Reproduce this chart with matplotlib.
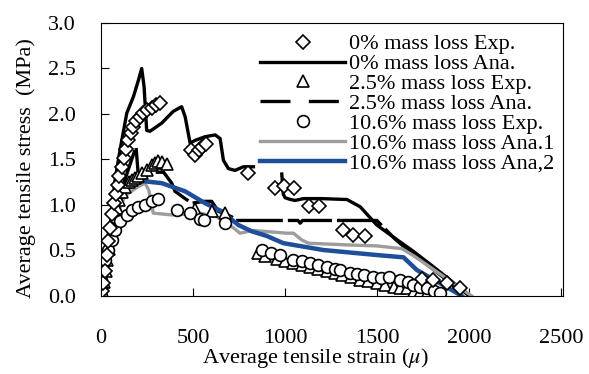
import numpy as np
import matplotlib
matplotlib.use('Agg')
import matplotlib.pyplot as plt
from matplotlib.lines import Line2D

plt.rcParams['font.family'] = 'Liberation Serif'
plt.rcParams['mathtext.fontset'] = 'stix'

# 0% mass loss - experiment (diamonds)
exp0_strain = [5, 12, 20, 30, 40, 50, 60, 70, 80, 90, 100, 112, 124, 136, 149, 162,
               176, 192, 210, 230, 252, 275, 298, 321,
               490, 511, 530, 550, 570, 801,
               946, 995, 1050, 1130, 1185, 1317, 1371, 1435,
               1743, 1806, 1879, 1951]
exp0_stress = [0.05, 0.14, 0.28, 0.45, 0.6, 0.75, 0.9, 1.02, 1.12, 1.22, 1.32, 1.42, 1.52, 1.62, 1.71, 1.79,
               1.86, 1.92, 1.97, 2.01, 2.04, 2.07, 2.10, 2.12,
               1.60, 1.55, 1.60, 1.64, 1.67, 1.35,
               1.19, 1.21, 1.19, 0.99, 0.99, 0.725, 0.67, 0.66,
               0.19, 0.175, 0.14, 0.085]

# 0% mass loss - analysis (nan splits the curve)
ana0_strain = [0, 40, 76, 103, 140, 176, 203, 221, 234, 248, 266, 330, 393, 438, 457, 484,
               511, 565, 620, 647, 665, 692, 728, 773, 828, np.nan,
               982, 990, 1000, 1030, 1054, 1100, 1200, 1336, 1408, 1498, 1600, 1697,
               1800, 1900, 2000]
ana0_stress = [0, 0.55, 1.27, 1.60, 2.01, 2.19, 2.37, 2.50, 2.30, 1.82, 1.81, 1.90, 2.03, 2.08, 1.97, 1.68,
               1.71, 1.75, 1.77, 1.73, 1.49, 1.40, 1.38, 1.42, 1.42, np.nan,
               1.34, 1.12, 1.08, 1.06, 1.05, 1.07, 1.07, 1.06, 0.98, 0.78, 0.63, 0.49,
               0.33, 0.17, 0.0]

# 2.5% mass loss - experiment (triangles)
exp25_strain = [0, 8, 15, 25, 35, 45, 55, 65, 75, 88, 100, 115, 130, 150, 170, 185,
                200, 221, 248, 275, 293, 312, 330, 357,
                511, 601, 674,
                855, 891, 955, 1000, 1045, 1090, 1136, 1180, 1227, 1270, 1308, 1360,
                1408, 1450, 1498, 1545, 1589, 1625, 1661, 1700, 1735, 1770, 1810, 1852]
exp25_stress = [0, 0.05, 0.15, 0.27, 0.4, 0.52, 0.65, 0.76, 0.87, 0.97, 1.06, 1.14, 1.2, 1.25, 1.28, 1.3,
                1.32, 1.35, 1.38, 1.44, 1.46, 1.48, 1.47, 1.45,
                0.96, 0.93, 0.91,
                0.47, 0.44, 0.41, 0.38, 0.36, 0.34, 0.32, 0.295, 0.27, 0.25, 0.23, 0.205,
                0.18, 0.16, 0.14, 0.12, 0.10, 0.09, 0.085, 0.06, 0.045, 0.03, 0.02, 0.0]

# 2.5% mass loss - analysis
ana25_strain = [0, 50, 100, 150, 190, 205, 240, 290, 340, 384, 402, 450, 493, 560, 601,
                638, 710, 728, 900, 1070, 1082, 1095, 1300, 1498, 1600, 1700, 1800, 1900, 1965]
ana25_stress = [0, 0.7, 1.1, 1.4, 1.64, 1.27, 1.32, 1.36, 1.36, 1.24, 1.15, 1.08, 1.02, 1.04, 1.04,
                0.93, 0.87, 0.83, 0.83, 0.83, 0.80, 0.83, 0.83, 0.83, 0.62, 0.45, 0.30, 0.14, 0.0]

# 10.6% mass loss - experiment (circles)
exp106_strain = [0, 0, 0, 13, 22, 40, 58, 76, 103, 140, 167, 203, 239, 275, 312,
                 411, 484, 538, 560, 674,
                 873, 925, 973, 1045, 1090, 1136, 1180, 1227, 1270, 1299, 1353, 1390,
                 1426, 1480, 1520, 1562, 1625, 1665, 1697, 1735, 1770, 1810, 1842]
exp106_stress = [0.0, 0.08, 0.18, 0.29, 0.40, 0.51, 0.62, 0.73, 0.82, 0.89, 0.95, 0.98, 1.00, 1.04, 1.07,
                 0.945, 0.91, 0.85, 0.83, 0.80,
                 0.505, 0.47, 0.45, 0.40, 0.38, 0.36, 0.34, 0.32, 0.30, 0.285, 0.25, 0.24,
                 0.23, 0.21, 0.20, 0.21, 0.175, 0.15, 0.12, 0.10, 0.085, 0.06, 0.03]

# 10.6% mass loss - analysis 1 (grey)
ana106a_strain = [0, 60, 130, 200, 239, 260, 284, 391, 538, 629, 700, 755, 826, 1009, 1045,
                  1091, 1127, 1353, 1500, 1634, 1700, 1800, 1900, 2014]
ana106a_stress = [0, 0.75, 1.1, 1.2, 1.24, 1.16, 0.91, 0.89, 0.91, 0.87, 0.78, 0.69, 0.72, 0.69, 0.69,
                  0.615, 0.58, 0.56, 0.55, 0.52, 0.44, 0.30, 0.16, 0.0]

# 10.6% mass loss - analysis 2 (blue)
ana106b_strain = [0, 60, 120, 200, 239, 330, 457, 565, 656, 746, 820, 900, 991, 1208, 1498,
                  1643, 1716, 1842, 1960]
ana106b_stress = [0, 0.8, 1.15, 1.25, 1.26, 1.24, 1.15, 1.02, 0.93, 0.78, 0.71, 0.66, 0.58, 0.505, 0.45,
                  0.425, 0.285, 0.14, 0.0]

mk = dict(linestyle='none', markerfacecolor='white', markeredgecolor='black',
          markeredgewidth=1.2, markersize=8.5)

fig, ax = plt.subplots(figsize=(5.89, 3.74), dpi=100)
fig.subplots_adjust(left=0.1715, right=0.956, bottom=0.2086, top=0.9385)

l0, = ax.plot(ana0_strain, ana0_stress, color='black', lw=2.4,
              label='0% mass loss Ana.')
ax.plot(ana25_strain, ana25_stress, color='black', lw=2.4, dashes=(14, 1.5))
la, = ax.plot(ana106a_strain, ana106a_stress, color='#9d9d9d', lw=2.4,
              label='10.6% mass loss Ana.1')
lb, = ax.plot(ana106b_strain, ana106b_stress, color='#1f4e9b', lw=3.2,
              label='10.6% mass loss Ana,2')
m25, = ax.plot(exp25_strain, exp25_stress, marker='^', label='2.5% mass loss Exp.', **mk)
m106, = ax.plot(exp106_strain, exp106_stress, marker='o', label='10.6% mass loss Exp.', **mk)
m0, = ax.plot(exp0_strain, exp0_stress, marker='D', label='0% mass loss Exp.',
              **{**mk, 'markersize': 7.5})

# legend shows the dashed line with longer gaps
l25 = Line2D([], [], color='black', lw=2.4, dashes=(9, 5.5), label='2.5% mass loss Ana.')

ax.set_xlim(0, 2510)
ax.set_ylim(0, 3.0)
ax.set_xticks(np.arange(0, 2501, 500))
ax.set_yticks(np.arange(0, 3.01, 0.5))
ax.yaxis.set_major_formatter(matplotlib.ticker.FormatStrFormatter('%.1f'))
ax.tick_params(axis='x', direction='in', length=6, width=0.8, pad=24, labelsize=16)
ax.tick_params(axis='y', direction='in', length=6, width=0.8, pad=18, labelsize=16)
for s in ax.spines.values():
    s.set_linewidth(0.8)

ax.set_xlabel('Average tensile strain ($\\mu$)', fontsize=16)
ax.set_ylabel('Average tensile stress  (MPa)', fontsize=16)
ax.xaxis.set_label_coords(0.465, -0.185)
ax.yaxis.set_label_coords(-0.14, 0.47)

ax.legend(handles=[m0, l0, m25, l25, m106, la, lb], loc='upper left',
          bbox_to_anchor=(0.345, 0.96), frameon=False, fontsize=16,
          numpoints=1, handlelength=3.8, handletextpad=0.2,
          labelspacing=-0.03, borderpad=0, borderaxespad=0)

fig.savefig('out.png', dpi=100)
